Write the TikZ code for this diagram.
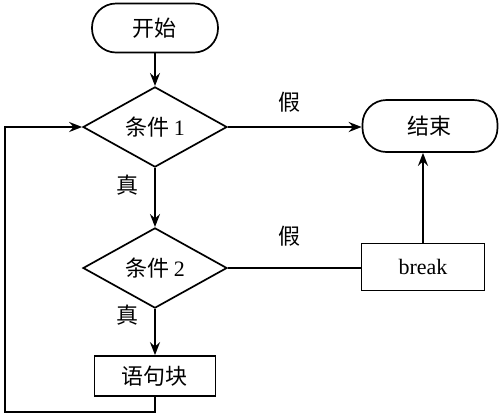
\documentclass[tikz,border=0pt]{standalone}
\usepackage{fontspec}
\setmainfont{Liberation Serif}
\newfontfamily\cjk{Noto Sans CJK SC}
\usetikzlibrary{shapes.geometric,arrows.meta}
\begin{document}
\begin{tikzpicture}[x=0.5pt,y=-0.5pt,
  every node/.style={font=\fontsize{11}{13}\selectfont},
  term/.style={draw,line width=0.85pt,rounded corners=12pt,inner sep=0pt},
  proc/.style={draw,line width=0.85pt,inner sep=0pt},
  cond/.style={draw,line width=0.85pt,diamond,inner sep=0pt,minimum width=72pt,minimum height=38.5pt},
  flow/.style={line width=1.1pt,-{Stealth[length=6.5pt,width=5pt,inset=2.2pt]}},
  plain/.style={line width=1.1pt},
  lbl/.style={inner sep=0pt}]
\useasboundingbox (0,0) rectangle (500,414);
\node[term,minimum width=63pt,minimum height=24.5pt] (st) at (155,28) {\cjk 开始};
\node[cond] (c1) at (155,127) {\cjk 条件\ \rmfamily 1};
\node[cond] (c2) at (155,268) {\cjk 条件\ \rmfamily 2};
\node[proc,minimum width=60.5pt,minimum height=20pt] (blk) at (155,376) {\cjk 语句块};
\node[term,minimum width=67.5pt,minimum height=26pt] (end) at (430,126) {\cjk 结束};
\node[proc,minimum width=61.5pt,minimum height=23.5pt] (brk) at (423,267) {break};
\coordinate (lp) at (5,412);
\node[lbl] (f1) at (290,102) {\cjk 假};
\node[lbl] (f2) at (290,236) {\cjk 假};
\node[lbl] (t1) at (128,185) {\cjk 真};
\node[lbl] (t2) at (128,315) {\cjk 真};
\draw[flow] (st) -- (c1);
\draw[flow] (c1) -- (c2);
\draw[flow] (c2) -- (blk);
\draw[flow] (c1.east) -- (c1.east -| end.west);
\draw[plain] (c2.east) -- (c2.east -| brk.west);
\draw[flow] (brk.north) -- (brk.north |- end.south);
\draw[flow] (blk.south) |- (lp) |- (c1.west);
\end{tikzpicture}
\end{document}
